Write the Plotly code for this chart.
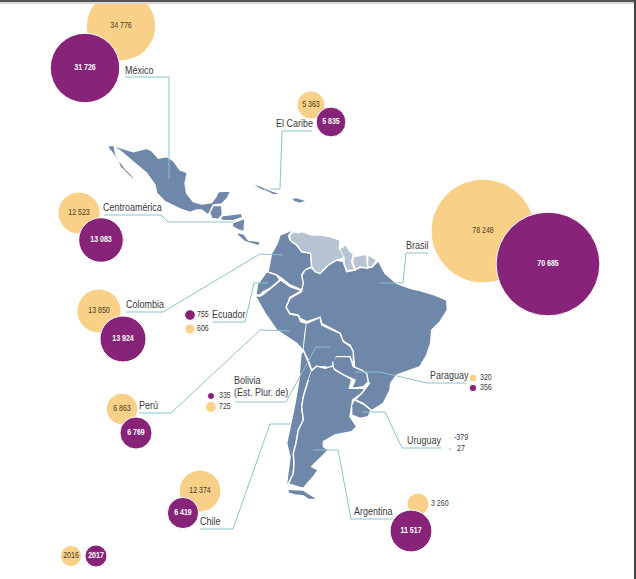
import plotly.graph_objects as go

# ---- data ----
regions = ["México", "El Caribe", "Centroamérica", "Colombia", "Ecuador", "Bolivia", "Perú",
           "Chile", "Argentina", "Brasil", "Paraguay", "Uruguay"]
values_2016 = [34776, 5363, 12523, 13850, 606, 725, 6863, 12374, 3260, 78248, 320, -379]
values_2017 = [31726, 5835, 13083, 13924, 755, 335, 6769, 6419, 11517, 70685, 356, 27]
years = ["2016", "2017"]

# ---- layout helpers ----
x_2016 = [121, 311, 79, 99, 190, 211, 122, 200, 418, 483, 473, 450]
y_2016 = [26, 105, 213, 311, 329, 407, 409, 491, 504, 231, 378, 438]
x_2017 = [85, 331, 101, 123, 190, 211, 136, 183, 411, 548, 473, 450]
y_2017 = [68, 122, 240, 339, 315, 396, 433, 513, 531, 264, 388, 449]
# where a value sits beside its (too small) bubble instead of inside it
outside_2016 = {"Ecuador": 197, "Bolivia": 219, "Argentina": 431, "Paraguay": 480, "Uruguay": 454}
outside_2017 = {"Ecuador": 197, "Bolivia": 219, "Paraguay": 480, "Uruguay": 457}

YELLOW = "#F8D088"
PURPLE = "#87247A"
BLUE = "#6F87A8"
LIGHT = "#B6C3D2"
LINE = "#8FBFCE"
TEXT = "#3A3A3A"

z1 = lambda p: [(90 + a / 3, 130 + b / 3) for a, b in p]
z2 = lambda p: [(240 + a / 3, 220 + b / 3) for a, b in p]
z3 = lambda p: [(270 + a / 3, 340 + b / 3) for a, b in p]

north = {
    "baja": z1([(55,47),(72,47),(78,75),(90,95),(105,115),(125,135),(140,155),(125,145),(105,125),(90,110),(85,95),(72,75),(62,62)]),
    "mexico": z1([(75,48),(105,58),(130,65),(170,55),(185,62),(205,85),(230,80),(250,92),(270,120),(292,128),(285,160),(290,190),(310,215),(335,222),(365,218),(378,200),(385,185),(422,183),(412,205),(395,222),(370,225),(355,255),(335,240),(320,240),(300,247),(270,237),(225,215),(200,190),(195,165),(170,130),(130,95),(105,75),(85,58)]),
    "cuba": z1([(490,163),(505,165),(540,180),(575,193),(550,195),(520,180)]),
    "hispaniola": z1([(605,205),(620,203),(653,213),(628,220),(615,215)]),
    "guatemala": z1([(372,227),(395,227),(397,255),(385,268),(365,265),(360,250)]),
    "honduras": z1([(400,257),(455,250),(458,262),(430,272),(400,272),(392,268)]),
    "nicaragua": z1([(430,278),(465,265),(462,305),(445,300),(428,290)]),
    "panama": z1([(445,308),(462,312),(475,330),(510,335),(508,348),(490,342),(465,335),(445,318)]),
}
south = {
    "brazil": z2([(215,145),(240,160),(265,135),(290,120),(310,125),(320,155),(345,150),(360,143),(385,143),(395,142),(415,122),(435,160),(470,190),(510,205),(540,212),(585,225),(620,240),(622,270),(600,305),(575,330),(572,370),(560,405),(540,440),(500,455),(470,465),(452,490)]) +
              z3([(360,150),(340,190),(305,212),(280,190),(255,180),(275,160),(298,130),(290,122),(285,100),(255,95),(250,40),(218,0)]) +
              z2([(340,395),(330,375),(310,365),(300,340),(245,310),(240,292),(200,305),(180,295),(175,285),(150,280),(138,262),(150,235),(185,215),(185,165),(195,150)]),
    "colombia": z2([(155,30),(120,45),(112,70),(95,100),(85,150),(80,155),(110,165),(125,175),(150,195),(185,210),(190,190),(185,165),(195,150),(215,140),(212,100),(185,95),(170,75),(150,60),(145,45)]),
    "ecuador": z2([(55,190),(80,155),(110,165),(120,180),(90,205),(70,215),(60,225),(50,225)]),
    "peru": z2([(48,228),(62,228),(90,207),(122,180),(150,200),(185,212),(150,232),(138,262),(150,282),(175,287),(182,305),(200,310),(195,340),(190,392),(170,370),(110,330),(75,280),(48,232)]),
    "bolivia": z2([(200,310),(240,292),(245,315),(300,340),(310,365),(330,378),(340,395),(340,440),(330,410),(290,410),(280,430),(275,450),(255,440),(230,440),(215,450),(205,420),(190,395)]),
    "paraguay": z2([(290,410),(330,410),(340,440),(365,450),(380,460),(385,485),(370,500),(335,505),(345,480),(310,465),(280,445),(278,425)]),
    "chile": z3([(95,40),(100,30),(112,60),(125,92),(115,120),(100,170),(95,200),(100,240),(85,270),(78,310),(70,340),(72,370),(70,400),(55,432),(60,440),(50,430),(55,390),(60,350),(50,310),(60,260),(75,190),(90,100)]),
    "argentina": z3([(125,92),(140,78),(165,85),(188,78),(195,90),(245,118),(238,145),(280,145),(297,130),(275,160),(248,180),(240,230),(260,260),(245,275),(195,285),(160,305),(160,320),(175,330),(155,350),(125,380),(145,390),(130,410),(100,445),(55,432),(70,400),(72,370),(70,340),(78,310),(85,270),(100,240),(95,200),(100,170),(115,120)]),
    "fuego": z3([(55,448),(100,450),(115,460),(145,478),(115,478),(100,468),(75,465),(58,460)]),
    "uruguay": z3([(255,180),(280,192),(303,210),(295,230),(270,235),(245,225),(245,200)]),
}
guianas = {
    "venezuela": z2([(150,45),(160,35),(175,38),(185,35),(215,45),(240,45),(270,50),(300,60),(298,85),(310,105),(310,115),(290,120),(265,135),(240,160),(225,155),(215,140),(212,100),(185,95),(170,75),(155,65)]),
    "guyana": z2([(300,85),(318,75),(330,95),(340,100),(335,125),(345,150),(320,152),(312,130),(312,110)]),
    "suriname": z2([(342,110),(380,103),(383,145),(360,140),(345,148),(340,130)]),
    "guiana": z2([(385,105),(410,120),(395,142),(385,140)]),
}

leaders = [
    [(125,77),(169,77),(169,179)],
    [(312,131),(282,131),(280,189),(270,189)],
    [(104,215),(161,215),(168,222),(233,222)],
    [(126,312),(163,312),(260,254),(283,255)],
    [(213,322),(245,322),(254,283),(268,283)],
    [(235,402),(286,402),(316,347),(330,347)],
    [(139,413),(171,413),(260,330),(290,331)],
    [(200,529),(233,529),(270,424),(290,424)],
    [(313,450),(338,450),(351,519),(393,519)],
    [(428,253),(406,253),(403,283),(380,283)],
    [(355,372),(380,372),(427,383),(466,383)],
    [(362,412),(385,412),(402,448),(441,448)],
]
label_names = ["México", "El Caribe", "Centroamérica", "Colombia", "Ecuador", "Bolivia", "(Est. Plur. de)",
               "Perú", "Chile", "Argentina", "Brasil", "Paraguay", "Uruguay"]
label_x = [125, 276, 103, 126, 212, 234, 234, 139, 200, 354, 406, 430, 407]
label_y = [71, 124, 208, 305, 315, 381, 393, 406, 522, 512, 246, 376, 441]
FONT = "Liberation Sans, sans-serif"

fig = go.Figure()

def poly(pts, color):
    fig.add_trace(go.Scatter(x=[p[0] for p in pts], y=[p[1] for p in pts], mode="lines",
                             fill="toself", fillcolor=color,
                             line=dict(color="white", width=1.4), hoverinfo="skip", showlegend=False))

for pts in north.values():
    poly(pts, BLUE)
for pts in south.values():
    poly(pts, BLUE)
for pts in guianas.values():
    poly(pts, LIGHT)

for pts in leaders:
    fig.add_trace(go.Scatter(x=[p[0] for p in pts], y=[p[1] for p in pts], mode="lines",
                             line=dict(color=LINE, width=1), hoverinfo="skip", showlegend=False))

fmt = lambda v: f"{v:,}".replace(",", " ")

def bubbles(xs, ys, vals, color, sizeref, tcolor, bold, line, outside):
    fig.add_trace(go.Scatter(
        x=xs, y=ys, mode="markers+text",
        text=["" if r in outside else fmt(v) for v, r in zip(vals, regions)],
        textposition="middle center",
        textfont=dict(family=FONT, size=9, weight=700 if bold else 400, color=tcolor),
        marker=dict(size=[max(v, 15) for v in vals], sizemode="area", sizeref=sizeref,
                    color=color, opacity=1, line=dict(color="white", width=line)),
        hoverinfo="skip", showlegend=False))
    names = [r for r in regions if r in outside]
    fig.add_trace(go.Scatter(
        x=[outside[r] for r in names],
        y=[ys[regions.index(r)] for r in names],
        text=[fmt(vals[regions.index(r)]) for r in names],
        mode="text", textposition="middle right",
        textfont=dict(family=FONT, size=9, color=TEXT),
        hoverinfo="skip", showlegend=False))

bubbles(x_2016, y_2016, values_2016, YELLOW, 14.84, "#4A3A20", False, 0, outside_2016)
bubbles(x_2017, y_2017, values_2017, PURPLE, 13.14, "white", True, 1, outside_2017)

# year key
fig.add_trace(go.Scatter(x=[71, 96], y=[556, 556], mode="markers+text", text=years,
                         textposition="middle center",
                         textfont=dict(family=FONT, size=9, color=["#4A3A20", "white"], weight=[400, 700]),
                         marker=dict(size=[21, 22], color=[YELLOW, PURPLE], opacity=1),
                         hoverinfo="skip", showlegend=False))

fig.add_trace(go.Scatter(x=label_x, y=label_y, mode="text", text=label_names, textposition="middle right",
                         textfont=dict(family=FONT, size=11.5, color=TEXT), hoverinfo="skip", showlegend=False))

fig.update_layout(
    width=636, height=579, margin=dict(l=0, r=0, t=0, b=0),
    paper_bgcolor="white", plot_bgcolor="white", showlegend=False,
    xaxis=dict(range=[0, 636], visible=False, fixedrange=True),
    yaxis=dict(range=[579, 0], visible=False, fixedrange=True),
    shapes=[
        dict(type="rect", xref="x", yref="y", x0=0, x1=636, y0=2, y1=4, fillcolor="#D8D8D8", line_width=0),
        dict(type="rect", xref="x", yref="y", x0=0, x1=636, y0=0, y1=2, fillcolor="#555555", line_width=0),
        dict(type="rect", xref="x", yref="y", x0=634, x1=636, y0=0, y1=579, fillcolor="#444444", line_width=0),
    ],
)
condense = """
document.body.style.margin='0';document.body.style.overflow='hidden';
function condense(){document.querySelectorAll('svg text').forEach(function(t){
  if(t.getAttribute('lengthAdjust'))return;
  var w=t.getComputedTextLength(); if(!w)return;
  t.setAttribute('textLength',w*0.78);t.setAttribute('lengthAdjust','spacingAndGlyphs');});}
condense();setTimeout(condense,60);
"""
fig.write_html("out.html", config={"displayModeBar": False}, post_script=condense)
